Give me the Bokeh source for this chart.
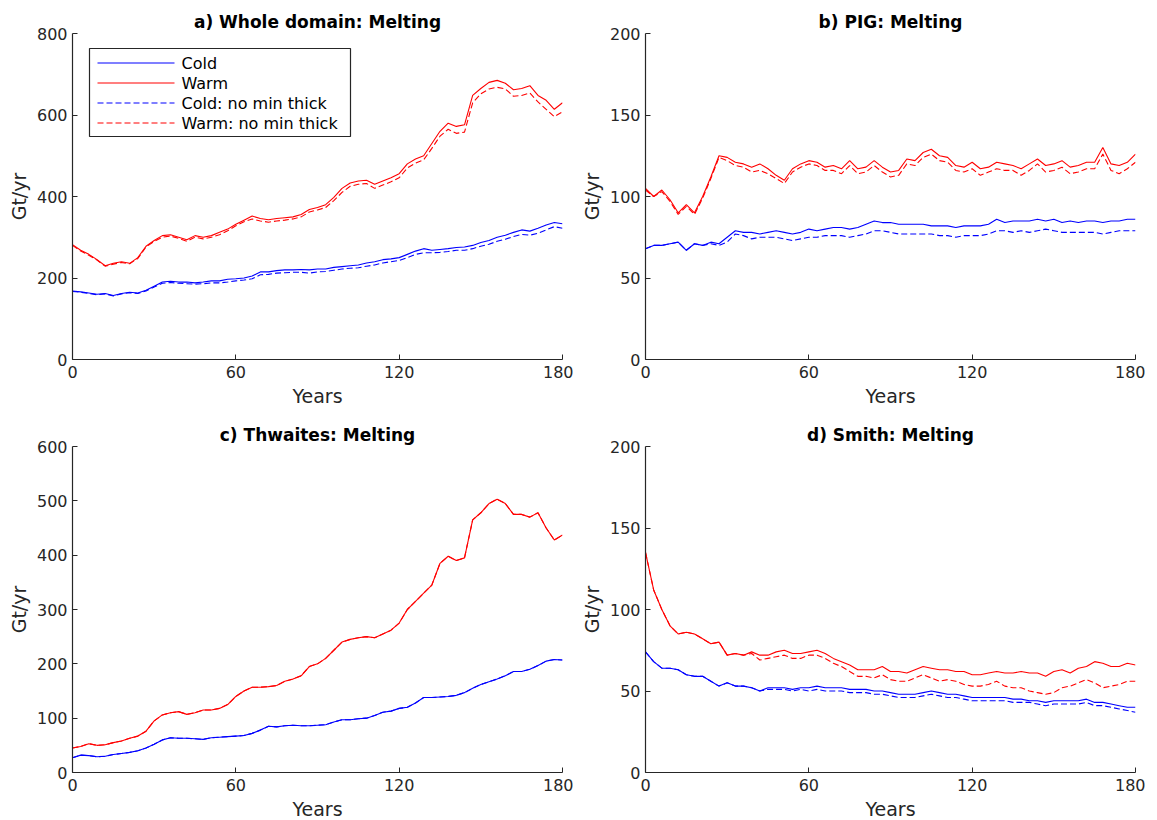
from bokeh.plotting import figure
from bokeh.models import Range1d, FixedTicker, BoxAnnotation, Label, Arrow
from bokeh.layouts import column, row
from bokeh.embed import file_html
from bokeh.resources import INLINE

years = list(range(0, 181, 3))

# a) Whole domain
whole_cold = [168,166,163,160,162,157,162,165,163,170,
              180,190,192,190,190,188,190,193,193,197,
              198,200,205,215,215,218,220,220,221,220,
              222,222,226,228,230,232,237,240,245,247,
              250,258,266,272,268,270,272,275,276,280,
              287,292,300,305,312,318,315,322,330,336,
              333]
whole_warm = [282,268,258,245,230,236,240,236,250,278,
              292,304,306,300,294,304,300,304,312,320,
              332,342,352,346,343,346,348,350,356,368,
              373,380,398,420,433,438,440,430,438,446,
              456,480,492,500,530,560,580,572,576,648,
              665,680,685,678,662,665,672,648,636,614,
              630]
whole_cold_nmt = [167,165,162,159,161,156,161,164,162,168,
                  178,187,189,187,186,185,186,188,188,190,
                  193,195,198,208,209,212,213,214,214,212,
                  215,216,219,222,224,225,229,232,237,240,
                  243,250,258,262,262,263,265,268,268,272,
                  278,283,290,295,302,307,305,310,318,326,
                  322]
whole_warm_nmt = [280,266,256,244,229,234,238,235,248,276,
                  290,300,303,297,290,300,296,300,306,316,
                  328,338,345,340,337,340,342,345,350,362,
                  367,373,390,410,425,430,432,420,428,436,
                  446,470,482,490,518,548,565,555,558,630,
                  652,664,668,664,646,648,654,632,614,596,
                  608]

# b) PIG
pig_cold = [68,70,70,71,72,67,71,70,72,71,
            75,79,78,78,77,78,79,78,77,78,
            80,79,80,81,81,80,81,83,85,84,
            84,83,83,83,83,82,82,82,81,82,
            82,82,83,86,84,85,85,85,86,85,
            86,84,85,84,85,85,84,85,85,86,
            86]
pig_warm = [105,100,104,98,90,95,90,100,112,125,
            124,121,120,118,120,117,113,110,117,120,
            122,121,118,119,117,122,117,118,122,118,
            115,116,123,122,127,129,125,124,119,118,
            121,117,118,121,120,119,117,120,123,119,
            120,122,118,119,121,121,130,120,119,121,
            126]
pig_cold_nmt = [68,70,70,71,72,67,71,70,71,70,
                72,77,76,74,75,75,75,74,73,74,
                75,75,76,76,76,75,76,77,79,79,
                78,77,77,77,77,77,76,76,75,76,
                76,76,77,79,79,78,79,78,79,80,
                79,78,78,78,78,78,77,78,79,79,
                79]
pig_warm_nmt = [104,100,103,97,89,94,89,99,111,124,
                122,119,118,115,116,114,111,108,115,118,
                120,119,116,116,114,119,114,115,119,115,
                112,113,120,119,124,126,122,121,116,115,
                117,113,115,117,116,116,113,116,120,115,
                116,118,114,115,117,117,126,116,114,117,
                121]

# c) Thwaites
thw_cold = [27,32,31,29,30,33,35,37,40,45,
            52,60,64,63,63,62,61,64,65,66,
            67,68,72,78,85,84,86,87,86,86,
            87,88,93,97,97,99,100,105,111,113,
            118,120,128,138,138,139,140,142,147,155,
            162,167,172,178,186,186,190,197,205,208,
            207]
thw_warm = [45,48,53,50,51,55,58,63,67,76,
            95,106,110,112,107,110,115,115,118,125,
            140,150,157,157,158,160,168,172,178,195,
            200,210,225,240,245,248,250,248,255,262,
            275,300,315,330,345,385,398,390,395,465,
            478,495,503,495,475,475,470,478,450,428,
            437]
thw_cold_nmt = thw_cold
thw_warm_nmt = thw_warm

# d) Smith
smith_cold = [74,68,64,64,63,60,59,59,56,53,
              55,53,53,52,50,52,52,52,51,52,
              52,53,52,52,52,51,51,51,50,50,
              49,48,48,48,49,50,49,48,48,47,
              46,46,46,46,46,45,45,44,44,43,
              44,44,44,44,45,43,43,42,41,40,
              40]
smith_warm = [135,112,100,90,85,86,85,82,79,80,
              72,73,72,74,72,72,74,75,73,73,
              74,75,73,70,68,66,63,63,63,65,
              62,62,61,63,65,64,63,63,62,62,
              60,60,61,62,61,61,62,61,61,59,
              62,63,61,64,65,68,67,65,65,67,
              66]
smith_cold_nmt = [74,68,64,64,63,60,59,59,56,53,
                  55,53,53,52,50,51,51,51,50,51,
                  50,51,50,50,50,49,49,49,48,48,
                  47,46,46,46,47,48,47,46,46,45,
                  44,44,44,44,44,43,43,43,42,41,
                  42,42,42,42,43,41,41,40,39,38,
                  37]
smith_warm_nmt = [135,112,100,90,85,86,85,82,79,80,
                  72,73,72,73,69,70,71,72,70,70,
                  72,72,70,67,65,62,59,59,58,60,
                  57,56,56,58,60,58,56,57,56,54,
                  53,53,54,56,53,52,52,50,49,48,
                  49,52,53,55,57,55,52,53,54,56,
                  56]

x_ticks = [0, 60, 120, 180]
series_labels = ["Cold", "Warm", "Cold: no min thick", "Warm: no min thick"]
series_colors = ["#0000ff", "#ff0000", "#0000ff", "#ff0000"]

AX = "#262626"
FONT = "DejaVu Sans"
DASH = "6 3"
DASHES = ["solid", "solid", DASH, DASH]


def add_legend(p):
    # legend frame, in screen pixels relative to the plot frame (y up)
    p.add_layout(BoxAnnotation(left=17, right=278, top=311, bottom=223,
                               left_units="screen", right_units="screen",
                               top_units="screen", bottom_units="screen",
                               fill_color="white", fill_alpha=1,
                               line_color=AX, line_width=1.2, line_alpha=1))
    row_y = [296.5, 276.5, 256.5, 236.5]
    for k in range(4):
        p.add_layout(Arrow(start=None, end=None,
                           x_start=25, y_start=row_y[k], x_end=102, y_end=row_y[k],
                           start_units="screen", end_units="screen",
                           line_color=series_colors[k], line_width=1.2,
                           line_dash=DASHES[k]))
        p.add_layout(Label(x=109, y=row_y[k], x_units="screen", y_units="screen",
                           text=series_labels[k], text_font=FONT,
                           text_font_size="16px", text_color="black",
                           text_baseline="middle", text_align="left"))


def panel(title, ymax, yticks, cold, warm, cold_nmt, warm_nmt,
          left, right, top, bottom, legend=False):
    p = figure(frame_width=490, frame_height=326,
               x_range=Range1d(0, 180), y_range=Range1d(0, ymax),
               output_backend="svg", toolbar_location=None,
               min_border_left=left, min_border_right=right,
               min_border_top=top, min_border_bottom=bottom,
               background_fill_color="white", border_fill_color="white")
    p.outline_line_color = None
    p.grid.visible = False
    p.title.text = title
    p.title.align = "center"
    p.title.text_font = FONT
    p.title.text_font_size = "17px"
    p.title.text_font_style = "bold"
    p.title.text_color = "black"
    p.title.standoff = 4
    p.xaxis.axis_label = "Years"
    p.yaxis.axis_label = "Gt/yr"
    p.xaxis.ticker = FixedTicker(ticks=x_ticks)
    p.yaxis.ticker = FixedTicker(ticks=yticks)
    for ax in (p.xaxis[0], p.yaxis[0]):
        ax.axis_line_color = AX
        ax.axis_line_width = 1.2
        ax.major_tick_line_color = AX
        ax.major_tick_in = 5
        ax.major_tick_out = 0
        ax.minor_tick_line_color = None
        ax.major_label_text_font = FONT
        ax.major_label_text_font_size = "16px"
        ax.major_label_text_color = AX
        ax.axis_label_text_font = FONT
        ax.axis_label_text_font_size = "19px"
        ax.axis_label_text_font_style = "normal"
        ax.axis_label_text_color = AX
        ax.axis_label_standoff = 4
    p.xaxis[0].major_label_standoff = 6
    p.yaxis[0].major_label_standoff = 5

    vals = [cold, warm, cold_nmt, warm_nmt]
    for k in (2, 3, 0, 1):
        p.line(years, vals[k], line_color=series_colors[k],
               line_width=1.1, line_dash=DASHES[k])

    if legend:
        add_legend(p)
    return p


pa = panel("a) Whole domain: Melting", 800, [0, 200, 400, 600, 800],
           whole_cold, whole_warm, whole_cold_nmt, whole_warm_nmt,
           72, 11, 33, 54, legend=True)
pb = panel("b) PIG: Melting", 200, [0, 50, 100, 150, 200],
           pig_cold, pig_warm, pig_cold_nmt, pig_warm_nmt,
           72, 10, 33, 54)
pc = panel("c) Thwaites: Melting", 600, [0, 100, 200, 300, 400, 500, 600],
           thw_cold, thw_warm, thw_cold_nmt, thw_warm_nmt,
           72, 11, 33, 40)
pd = panel("d) Smith: Melting", 200, [0, 50, 100, 150, 200],
           smith_cold, smith_warm, smith_cold_nmt, smith_warm_nmt,
           72, 10, 33, 40)

layout = column(row(pa, pb, spacing=0), row(pc, pd, spacing=0), spacing=0)

open("out.html", "w").write(file_html(layout, INLINE))
